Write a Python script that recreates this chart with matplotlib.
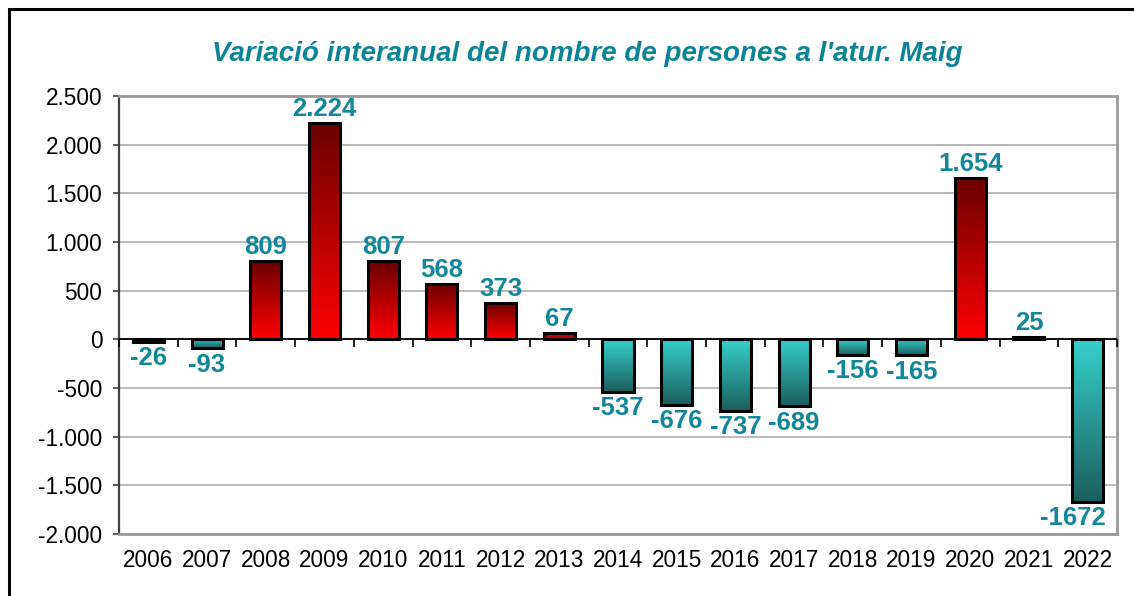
import numpy as np
import matplotlib
matplotlib.use("Agg")
import matplotlib.pyplot as plt
from matplotlib.colors import LinearSegmentedColormap
from matplotlib.patches import Rectangle
from matplotlib.ticker import FuncFormatter

years = ["2006", "2007", "2008", "2009", "2010", "2011", "2012", "2013", "2014",
         "2015", "2016", "2017", "2018", "2019", "2020", "2021", "2022"]
values = [-26, -93, 809, 2224, 807, 568, 373, 67, -537,
          -676, -737, -689, -156, -165, 1654, 25, -1672]
labels = ["-26", "-93", "809", "2.224", "807", "568", "373", "67", "-537",
          "-676", "-737", "-689", "-156", "-165", "1.654", "25", "-1672"]
title = "Variació interanual del nombre de persones a l'atur. Maig"

plt.rcParams['font.family'] = ['Liberation Sans', 'DejaVu Sans']
label_color = "#12879B"

red_cmap = LinearSegmentedColormap.from_list("reds", ["#ff0000", "#6a0000"])
teal_cmap = LinearSegmentedColormap.from_list("teals", ["#1b5e5e", "#36d0cc"])

fig = plt.figure(figsize=(11.34, 5.96), dpi=100)
ax = fig.add_axes([119/1134, 1 - 534/596, (1117 - 119)/1134, (534 - 96)/596])

x = np.arange(len(years))
width = 0.53
grad = np.linspace(0, 1, 256).reshape(-1, 1)

for xi, v in zip(x, values):
    cmap = red_cmap if v >= 0 else teal_cmap
    ax.imshow(grad, extent=[xi - width/2, xi + width/2, min(v, 0), max(v, 0)],
              origin="lower", aspect="auto", cmap=cmap, zorder=2, interpolation="bilinear")
    ax.bar(xi, v, width=width, facecolor="none", edgecolor="black", linewidth=2.2, zorder=3)

for xi, v, lab in zip(x, values, labels):
    if v >= 0:
        ax.annotate(lab, (xi, v), xytext=(0, 1.5), textcoords="offset points",
                    ha="center", va="bottom", fontsize=18.5, fontweight="bold", color=label_color, zorder=5)
    else:
        ha = "center"
        xpos = xi
        if xi == len(years) - 1:
            ha = "right"
            xpos = xi + width/2 + 0.04
        ax.annotate(lab, (xpos, v), xytext=(0, -3), textcoords="offset points",
                    ha=ha, va="top", fontsize=18.5, fontweight="bold", color=label_color, zorder=5)

ax.set_xlim(-0.5, len(years) - 0.5)
ax.set_ylim(-2000, 2500)
ax.set_yticks(np.arange(-2000, 2501, 500))
ax.yaxis.set_major_formatter(FuncFormatter(lambda v, p: f"{int(v):,}".replace(",", ".")))
ax.yaxis.grid(True, color="#b4b4b4", linewidth=1.3, zorder=0)
ax.set_axisbelow(True)

ax.set_xticks(x)
ax.set_xticklabels(years)
ax.tick_params(axis="x", length=0, pad=11, labelsize=16.3)
ax.tick_params(axis="y", length=4, width=1.2, pad=8, labelsize=16.3, color="#404040")

# zero line with tick marks between categories
ax.axhline(0, color="black", linewidth=1.3, zorder=4)
ax.plot(np.arange(len(years) + 1) - 0.5, np.zeros(len(years) + 1), linestyle="none",
        marker=3, markersize=6, markeredgewidth=1.2, color="black", zorder=4, clip_on=False)

for s in ["top", "right", "bottom"]:
    ax.spines[s].set_color("#9a9a9a")
    ax.spines[s].set_linewidth(2)
ax.spines["left"].set_color("#404040")
ax.spines["left"].set_linewidth(1.6)

fig.text(587/1134, 1 - 54/596, title, ha="center", va="center", fontsize=20,
         fontweight="bold", fontstyle="italic", color="#0A8598")

fig.patches.append(Rectangle((9/1134, -0.1), 1.2, 1 - 9/596 + 0.1, transform=fig.transFigure,
                             fill=False, edgecolor="black", linewidth=2.2))

fig.savefig("out.png", dpi=100)
